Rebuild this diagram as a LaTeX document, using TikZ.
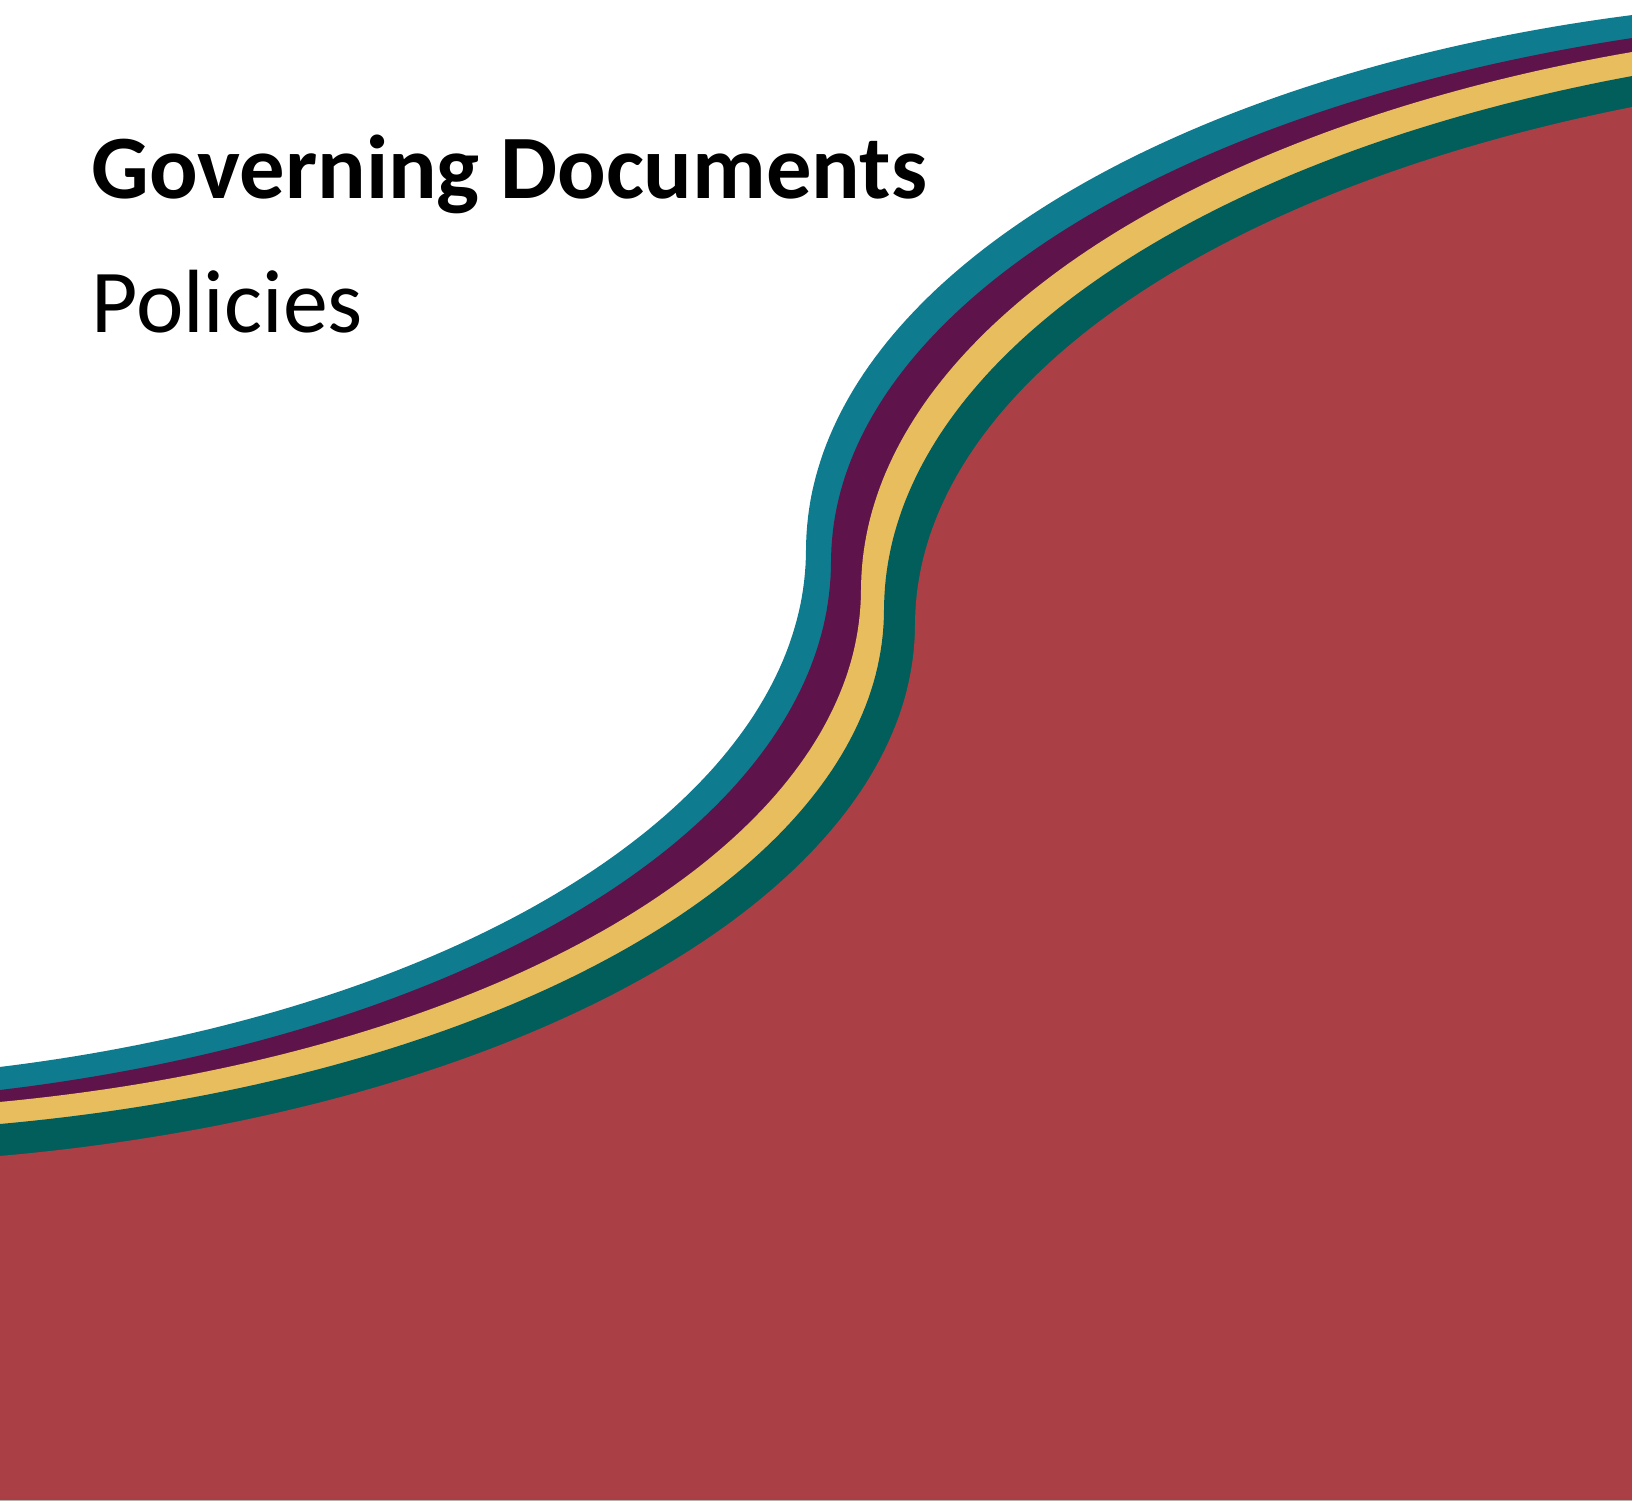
\documentclass[tikz,border=0pt]{standalone}
\usepackage{fontspec}
\setmainfont{Carlito}
\definecolor{cteal}{HTML}{0E7B8F}
\definecolor{cplum}{HTML}{5E144A}
\definecolor{cgold}{HTML}{E8BD5E}
\definecolor{cpine}{HTML}{025E5A}
\definecolor{cwine}{HTML}{AA4045}
% #1 colour, #2 xm, #3 ym, #4 y at left edge, #5 y at right edge, #6 left centre offset, #7 right x radius
\newcommand{\bandfill}[7]{%
  \pgfmathsetmacro{\bLa}{#2+#6}%
  \pgfmathsetmacro{\bLt}{acos(#6/\bLa)}%
  \pgfmathsetmacro{\bLb}{(#4-#3)/sin(\bLt)}%
  \pgfmathsetmacro{\bRc}{#2+#7}%
  \pgfmathsetmacro{\bRt}{acos((1632-\bRc)/#7)}%
  \pgfmathsetmacro{\bRb}{(#3-#5)/sin(\bRt)}%
  \fill[#1] plot[domain=\bLt:0, samples=90, variable=\t] ({-#6+\bLa*cos(\t)},{#3+\bLb*sin(\t)})
    -- plot[domain=180:\bRt, samples=90, variable=\t] ({\bRc+#7*cos(\t)},{#3-\bRb*sin(\t)})
    -- (1632,1500) -- (0,1500) -- cycle;
}
\tikzset{
  titletext/.style={anchor=base west, inner sep=0pt, font=\fontsize{45.3}{52}\selectfont\bfseries},
  subtext/.style={anchor=base west, inner sep=0pt, font=\fontsize{44.9}{52}\selectfont}
}
\begin{document}
\begin{tikzpicture}[x=0.5pt, y=-0.5pt]
  \useasboundingbox (0,0) rectangle (1632,1500);
  \fill[white] (0,0) rectangle (1632,1500);
  \bandfill{cteal}{806}{550}{1067}{15}{250}{1100}
  \bandfill{cplum}{831}{562}{1090}{38}{250}{1150}
  \bandfill{cgold}{861}{590}{1102}{52}{200}{1150}
  \bandfill{cpine}{884}{610}{1124}{76}{200}{1150}
  \bandfill{cwine}{915}{625}{1156}{107}{200}{1150}
  \node[titletext] (title) at (91,198) {Governing Documents};
  \node[subtext] (sub) at (91,332) {Policies};
\end{tikzpicture}
\end{document}
